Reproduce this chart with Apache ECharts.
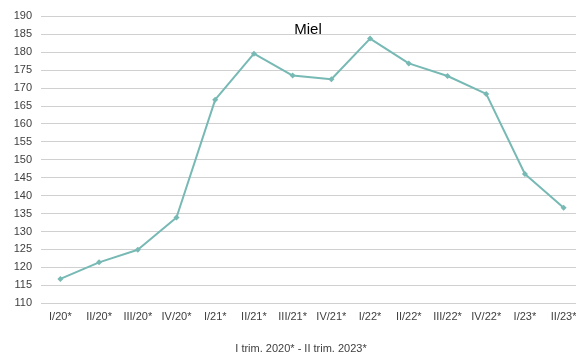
<!DOCTYPE html>
<html><head><meta charset="utf-8">
<script src="https://cdn.jsdelivr.net/npm/echarts@6/dist/echarts.min.js"></script>
<style>html,body{margin:0;padding:0;background:#fff}#c{width:576px;height:356px}</style>
</head><body><div id="c"></div>
<script>
const categories = ["I/20*","II/20*","III/20*","IV/20*","I/21*","II/21*","III/21*","IV/21*","I/22*","II/22*","III/22*","IV/22*","I/23*","II/23*"];
const values = [116.8,121.4,124.9,133.9,166.7,179.5,173.4,172.4,183.7,176.8,173.3,168.3,146.0,136.6];
const chartTitle = "Miel";
const xName = "I trim. 2020* - II trim. 2023*";
const chart = echarts.init(document.getElementById('c'));
chart.setOption({
  animation:false,
  backgroundColor:'#fff',
  title:{text:chartTitle,left:303,top:17,textAlign:'center',textStyle:{fontFamily:'Liberation Sans, Arial',fontSize:15,fontWeight:'normal',color:'#000'}},
  grid:{left:41,right:-7,top:16,bottom:52.7,containLabel:false,outerBoundsMode:'none'},
  xAxis:{type:'category',data:categories,boundaryGap:true,
    axisLine:{show:false},axisTick:{show:false},
    axisLabel:{interval:0,margin:8,fontFamily:'Liberation Sans, Arial',fontSize:11,color:'#404040'},
    name:xName,nameLocation:'middle',nameGap:40,
    nameTextStyle:{fontFamily:'Liberation Sans, Arial',fontSize:11,color:'#404040',padding:[0,0,0,-22]}},
  yAxis:{type:'value',min:110,max:190,interval:5,
    axisLine:{show:false},axisTick:{show:false},
    axisLabel:{margin:9,fontFamily:'Liberation Sans, Arial',fontSize:11,color:'#404040'},
    splitLine:{lineStyle:{color:'#d0d0d0',width:1}}},
  series:[{type:'line',data:values,symbol:'diamond',symbolSize:6,
    lineStyle:{color:'#77b9b4',width:2},itemStyle:{color:'#77b9b4'}}]
});
</script></body></html>
